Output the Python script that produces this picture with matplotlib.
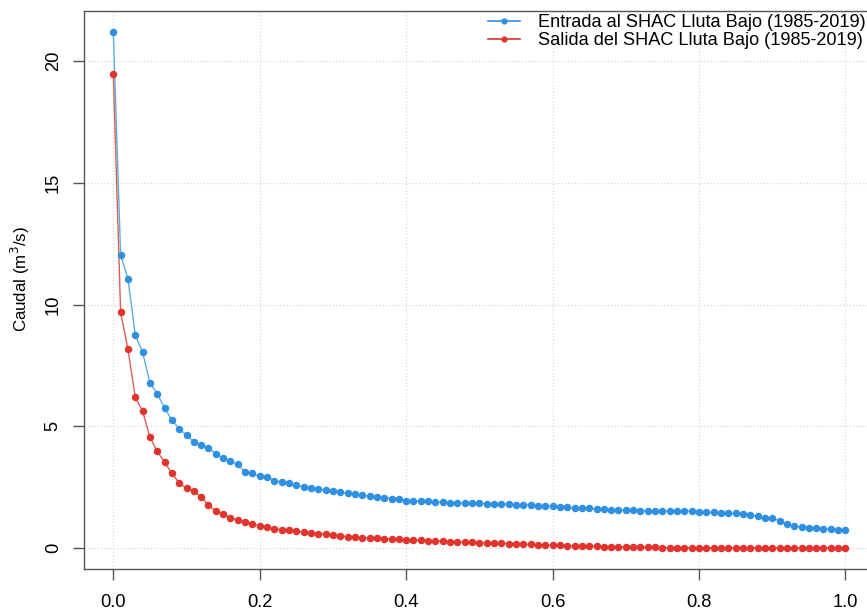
import matplotlib
matplotlib.use('agg')
import matplotlib.pyplot as plt
import numpy as np

# exceedance probability 0.00 .. 1.00 (step 0.01)
prob = [i / 100 for i in range(101)]

entrada = [21.2, 12.03, 11.06, 8.75, 8.04, 6.79, 6.34, 5.76, 5.26, 4.91,
           4.63, 4.38, 4.22, 4.12, 3.87, 3.71, 3.57, 3.44, 3.13, 3.07,
           2.96, 2.93, 2.78, 2.72, 2.66, 2.59, 2.52, 2.48, 2.44, 2.38,
           2.34, 2.29, 2.25, 2.22, 2.18, 2.14, 2.11, 2.08, 2.04, 2.01,
           1.96, 1.94, 1.93, 1.92, 1.90, 1.89, 1.87, 1.86, 1.86, 1.85,
           1.84, 1.83, 1.83, 1.83, 1.81, 1.79, 1.79, 1.78, 1.75, 1.74,
           1.72, 1.70, 1.68, 1.67, 1.65, 1.64, 1.62, 1.60, 1.59, 1.57,
           1.56, 1.56, 1.55, 1.53, 1.52, 1.52, 1.52, 1.52, 1.52, 1.52,
           1.50, 1.49, 1.47, 1.46, 1.44, 1.43, 1.40, 1.38, 1.31, 1.25,
           1.24, 1.13, 0.98, 0.91, 0.88, 0.85, 0.84, 0.81, 0.78, 0.77,
           0.74]

salida = [19.47, 9.68, 8.17, 6.20, 5.63, 4.56, 3.98, 3.53, 3.08, 2.68,
          2.46, 2.35, 2.09, 1.78, 1.51, 1.41, 1.26, 1.15, 1.07, 1.01,
          0.92, 0.86, 0.81, 0.76, 0.73, 0.70, 0.66, 0.63, 0.60, 0.58,
          0.54, 0.51, 0.48, 0.45, 0.44, 0.42, 0.41, 0.40, 0.38, 0.37,
          0.36, 0.34, 0.33, 0.31, 0.30, 0.29, 0.27, 0.26, 0.25, 0.24,
          0.23, 0.22, 0.21, 0.20, 0.19, 0.18, 0.17, 0.16, 0.15, 0.14,
          0.13, 0.12, 0.11, 0.10, 0.09, 0.08, 0.08, 0.07, 0.06, 0.06,
          0.05, 0.05, 0.04, 0.04, 0.04, 0.03, 0.03, 0.03, 0.03, 0.02,
          0.02, 0.02, 0.02, 0.02, 0.02, 0.02, 0.02, 0.02, 0.02, 0.02,
          0.02, 0.02, 0.02, 0.02, 0.02, 0.02, 0.02, 0.02, 0.02, 0.02,
          0.02]

labels = ["Entrada al SHAC Lluta Bajo (1985-2019)",
          "Salida del SHAC Lluta Bajo (1985-2019)"]
xticks = [0.0, 0.2, 0.4, 0.6, 0.8, 1.0]
yticks = [0, 5, 10, 15, 20]

plt.rcParams['font.family'] = ['Liberation Sans', 'DejaVu Sans']

fig = plt.figure(figsize=(8.67, 6.10), dpi=100)
ax = fig.add_axes([0.0969, 0.0672, 0.912, 0.915])

ax.set_xlim(-0.04, 1.04)
ax.set_ylim(-0.85, 22.05)
ax.set_xticks(xticks)
ax.set_xticklabels(["%.1f" % t for t in xticks])
ax.set_yticks(yticks)

ax.grid(True, color='#d8d8d8', linestyle=':', linewidth=0.9)
ax.set_axisbelow(True)

ax.plot(prob, entrada, '-', color='#5aaee0', lw=1.0, zorder=2)
ax.plot(prob, entrada, 'o', color='#2f8fe0', ms=5.4, mew=0, zorder=3)
ax.plot(prob, salida, '-', color='#d9605a', lw=1.0, zorder=2)
ax.plot(prob, salida, 'o', color='#e0342c', ms=5.4, mew=0, zorder=3)

# legend handles: line with a small dot
h1, = ax.plot([], [], '-o', color='#2f8fe0', lw=1.2, ms=3.5)
h2, = ax.plot([], [], '-o', color='#e0342c', lw=1.2, ms=3.5)
ax.legend([h1, h2], labels, loc='upper right', bbox_to_anchor=(0.9975, 1.007),
          frameon=False, fontsize=13.1, handlelength=1.75, handletextpad=1.0,
          labelspacing=0.05, borderaxespad=0.0)

for s in ax.spines.values():
    s.set_color('#555555')
    s.set_linewidth(1.0)

ax.tick_params(axis='both', colors='#555555', labelcolor='black',
               length=8, width=1.0, labelsize=13.2)
ax.tick_params(axis='x', pad=10)
ax.tick_params(axis='y', pad=8, labelrotation=90)
for lab in ax.get_yticklabels():
    lab.set_verticalalignment('center')

ax.set_ylabel("Caudal (m$^3$/s)", fontsize=12.2)
ax.yaxis.set_label_coords(-0.066, 0.52)

fig.savefig("out.png", dpi=100)
plt.close()
